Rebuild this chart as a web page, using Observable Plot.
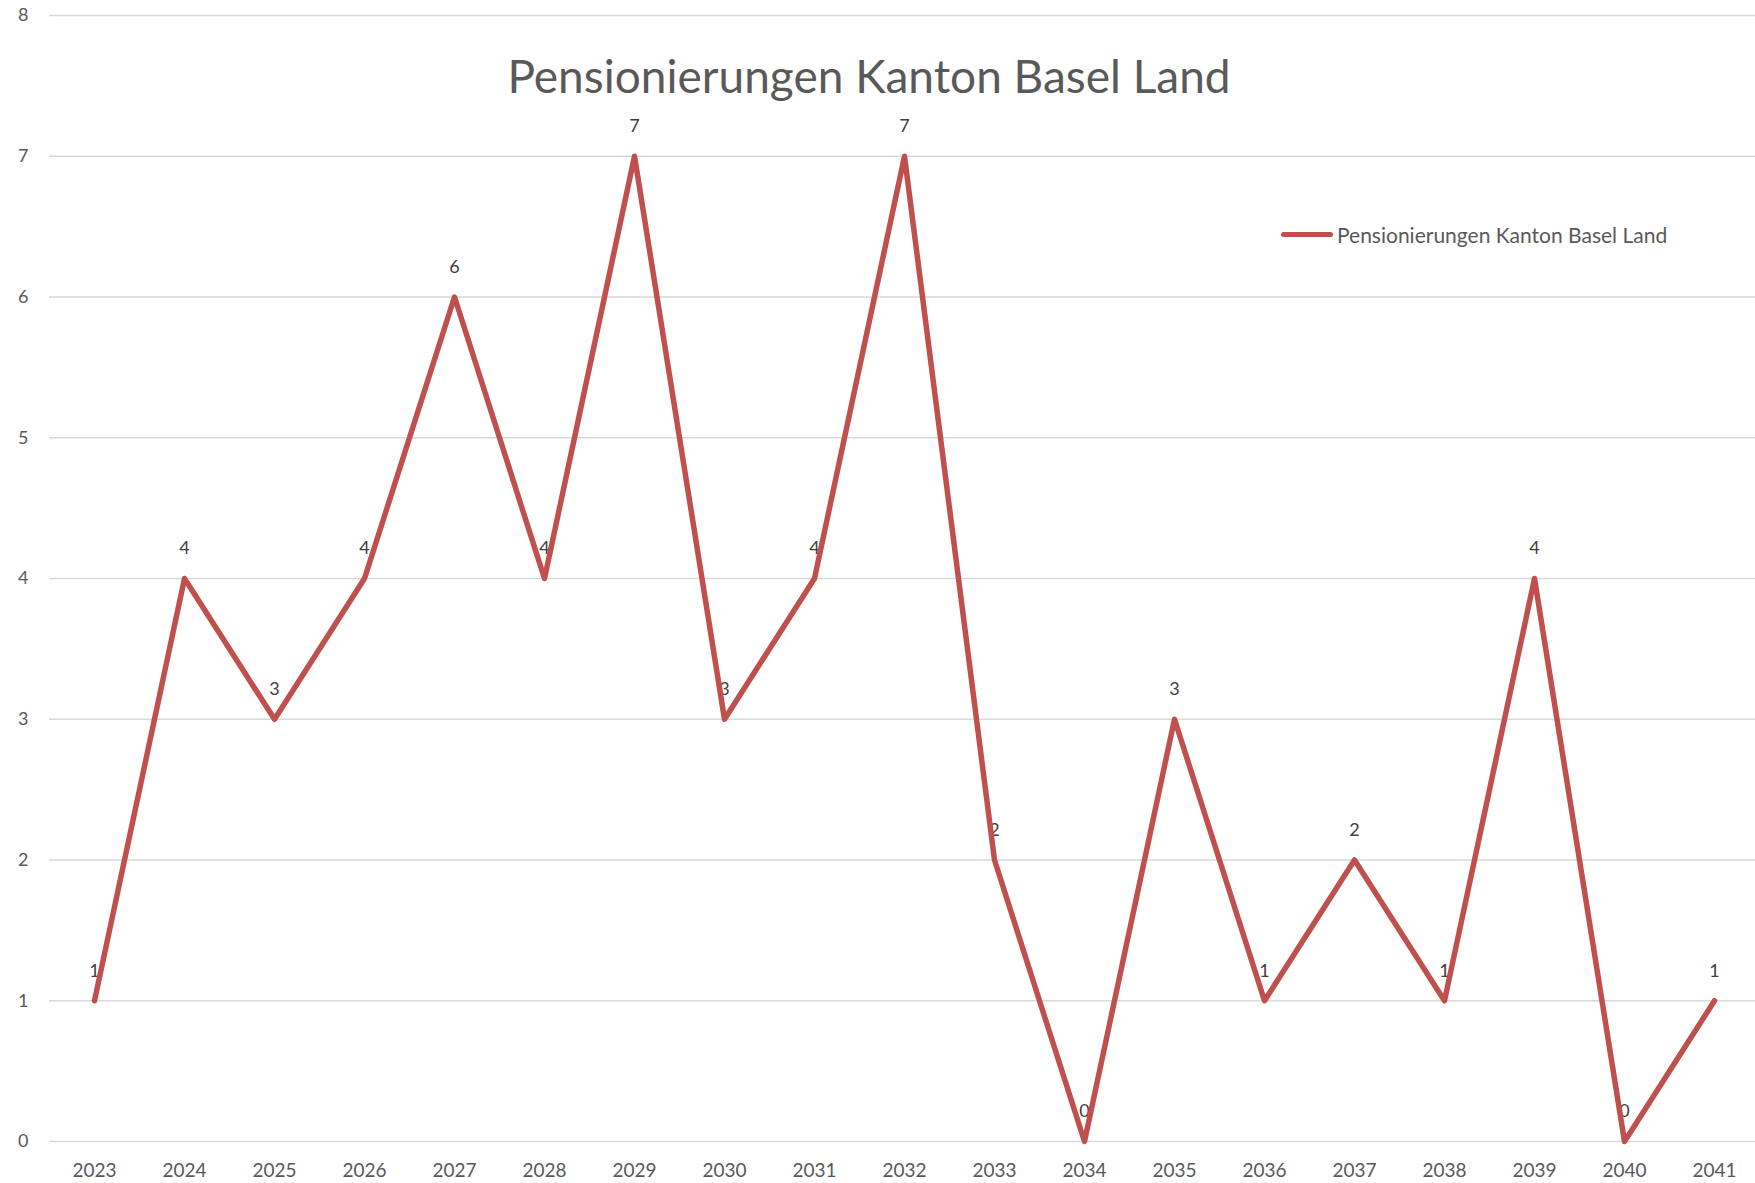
<!DOCTYPE html>
<html>
<head>
<meta charset="utf-8">
<script src="https://cdn.jsdelivr.net/npm/d3@7"></script>
<script src="https://cdn.jsdelivr.net/npm/@observablehq/plot@0.6"></script>
<style>
  html, body { margin: 0; padding: 0; background: #fff; overflow: hidden; }
  #wrap { position: relative; width: 1755px; height: 1183px; font-family: Lato, "Open Sans", sans-serif; }
  #chart svg { display: block; }
  #title { position: absolute; left: 0; width: 1738px; top: 48px; text-align: center; font-size: 46px; color: #595959; line-height: 56px; white-space: nowrap; }
  #legend { position: absolute; left: 1281px; top: 220px; height: 28px; display: flex; align-items: center; font-size: 21px; color: #595959; white-space: nowrap; }
  #legend .sw { width: 52px; height: 5px; border-radius: 3px; background: #C0504D; margin-right: 4px; }
</style>
</head>
<body>
<div id="wrap">
  <div id="chart"></div>
  <div id="title">Pensionierungen Kanton Basel Land</div>
  <div id="legend"><span class="sw"></span><span>Pensionierungen Kanton Basel Land</span></div>
</div>
<script>
const years = ["2023","2024","2025","2026","2027","2028","2029","2030","2031","2032","2033","2034","2035","2036","2037","2038","2039","2040","2041"];
const values = [1, 4, 3, 4, 6, 4, 7, 3, 4, 7, 2, 0, 3, 1, 2, 1, 4, 0, 1];
const yTicks = [0, 1, 2, 3, 4, 5, 6, 7, 8];
const seriesName = "Pensionierungen Kanton Basel Land";

const data = years.map((y, i) => ({year: y, value: values[i]}));

const chart = Plot.plot({
  width: 1755,
  height: 1183,
  marginLeft: 49,
  marginRight: -4,
  marginTop: 15,
  marginBottom: 42,
  style: { fontFamily: "Lato, 'Open Sans', sans-serif", background: "#fff", overflow: "hidden" },
  x: { type: "point", domain: years, padding: 0.5, round: false, label: null },
  y: { domain: [0, 8], label: null },
  marks: [
    Plot.ruleY(yTicks, { stroke: "#d9d9d9", strokeWidth: 1.5 }),
    Plot.axisY({ ticks: yTicks, tickSize: 0, tickPadding: 21, fontSize: 18, fill: "#595959", label: null, tickFormat: d => String(d) }),
    Plot.axisX({ tickSize: 0, tickPadding: 22, fontSize: 19, fill: "#595959", label: null }),
    Plot.text(data, { x: "year", y: "value", text: d => String(d.value), dy: -30, fontSize: 18, fill: "#404040" }),
    Plot.line(data, { x: "year", y: "value", stroke: "#C0504D", strokeWidth: 5.5, strokeLinejoin: "round", strokeLinecap: "round" })
  ]
});
document.getElementById("chart").appendChild(chart);
</script>
</body>
</html>
